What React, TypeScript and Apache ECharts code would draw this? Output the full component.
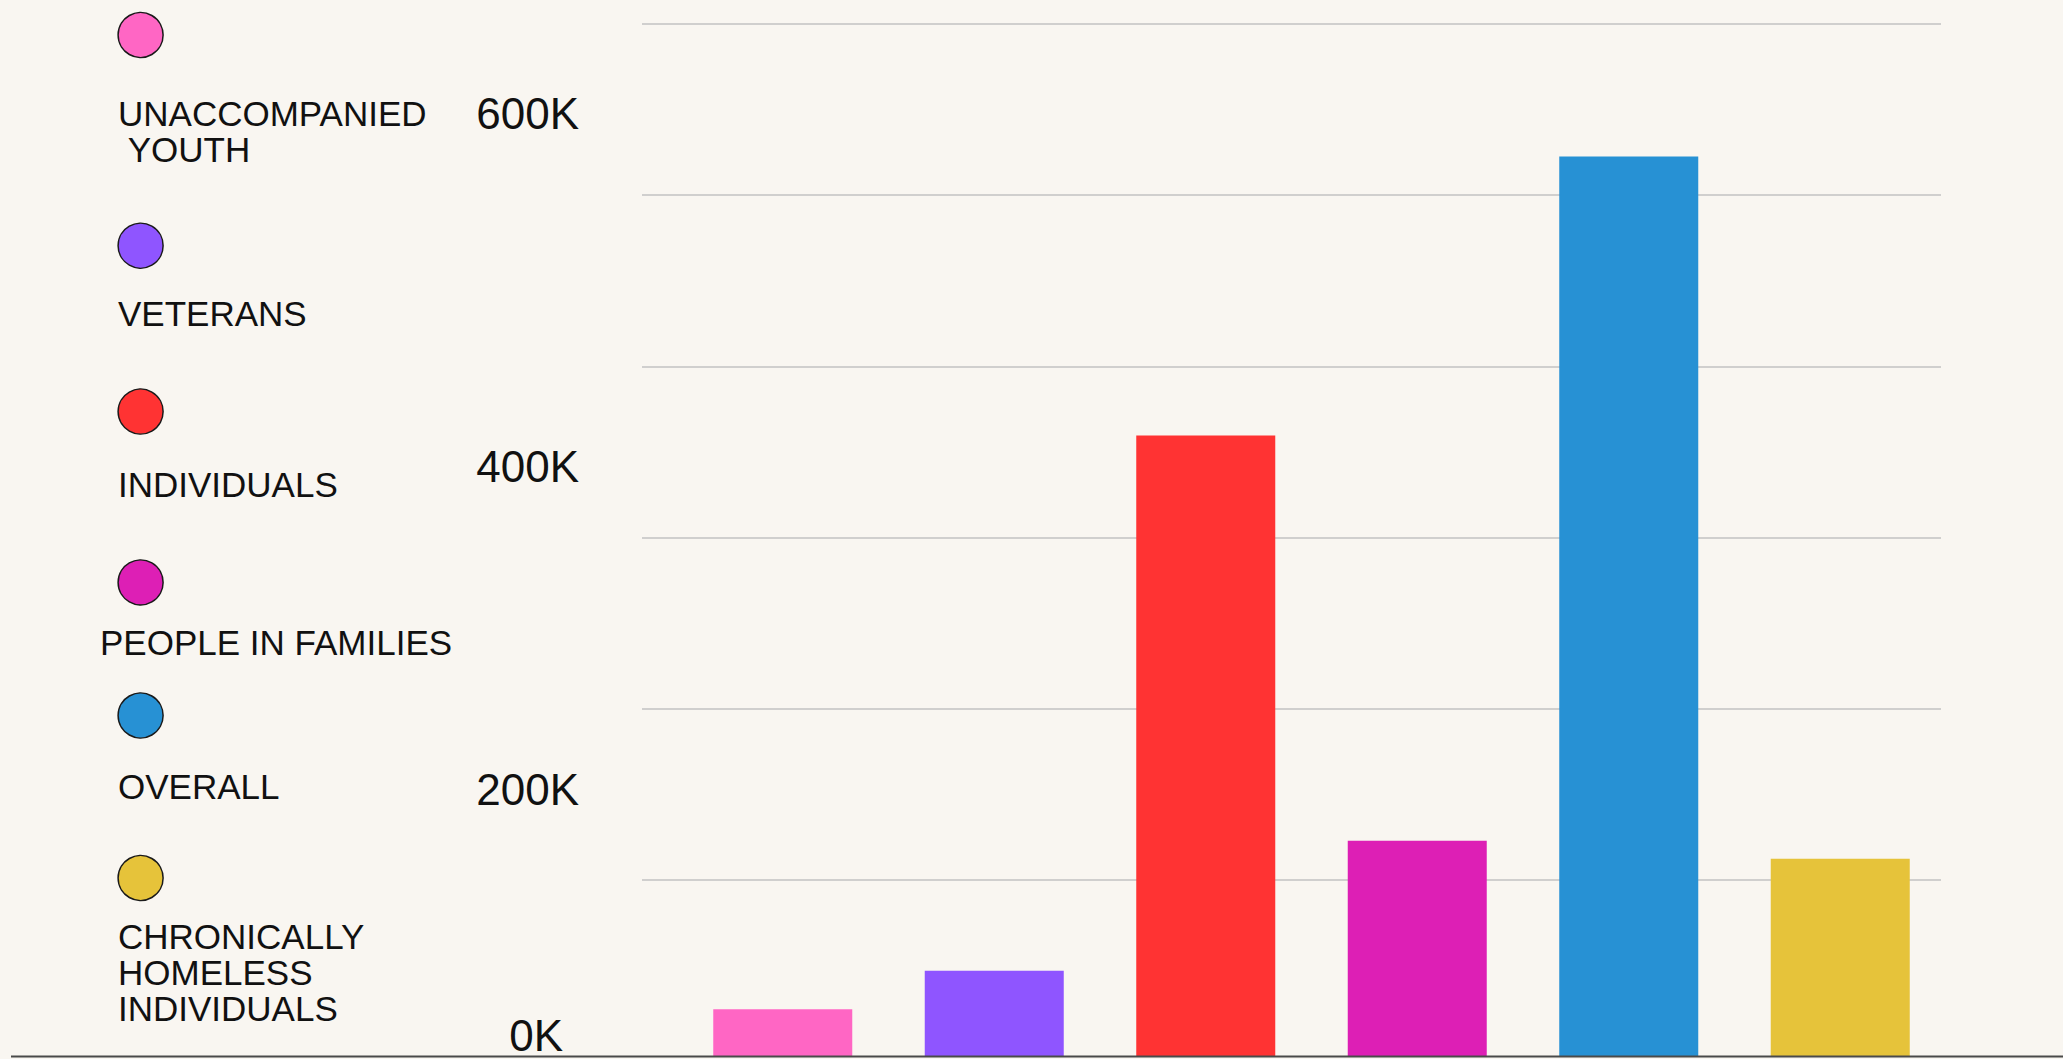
import React, { useEffect, useRef } from "react";
import * as echarts from "echarts";

// ---- data ----
const categories = [
  "UNACCOMPANIED YOUTH",
  "VETERANS",
  "INDIVIDUALS",
  "PEOPLE IN FAMILIES",
  "OVERALL",
  "CHRONICALLY HOMELESS INDIVIDUALS",
];
const legendLabels = [
  "UNACCOMPANIED\n\u00a0YOUTH",
  "VETERANS",
  "INDIVIDUALS",
  "PEOPLE IN FAMILIES",
  "OVERALL",
  "CHRONICALLY\nHOMELESS\nINDIVIDUALS",
];
const values = [27200, 49600, 360800, 125200, 522900, 114700];
const colors = ["#FF66C4", "#8F55FF", "#FF3333", "#DD1FB5", "#2791D4", "#E6C33A"];
// tick labels and where they sit on the value scale (as drawn in the reference)
const tickLabels = ["0K", "200K", "400K", "600K"];
const tickAnchors = [12200, 154800, 342700, 547700];

// ---- layout (legend) ----
const legendCircleY = [35, 245.7, 411.6, 582.4, 715.5, 878];
const legendTextY = [113, 313, 484.5, 642.5, 786.4, 936];
const legendTextX = [118, 118, 118, 100, 118, 118];

const FONT = "'Liberation Sans', Arial, Helvetica, sans-serif";

export default function App() {
  const ref = useRef<HTMLDivElement>(null);

  useEffect(() => {
    if (!ref.current) return;
    const chart = echarts.init(ref.current, null, { renderer: "svg" });

    const legendGraphics: any[] = [];
    categories.forEach((_, i) => {
      legendGraphics.push({
        type: "circle",
        shape: { cx: 140.6, cy: legendCircleY[i], r: 22.5 },
        style: { fill: colors[i], stroke: "#1a1a1a", lineWidth: 1.5 },
        z: 10,
      });
      legendGraphics.push({
        type: "text",
        x: legendTextX[i],
        y: legendTextY[i] - 18,
        style: {
          text: legendLabels[i],
          fill: "#111",
          font: `35px ${FONT}`,
          lineHeight: 36,
          align: "left",
          verticalAlign: "top",
        },
        z: 10,
      });
    });

    chart.setOption({
      animation: false,
      backgroundColor: "#F9F6F1",
      grid: [
        { left: 642, right: 122, top: 24, height: 856, containLabel: false },
        { left: 677, right: 117, top: 24, bottom: 3, containLabel: false },
      ],
      xAxis: [
        {
          gridIndex: 0,
          type: "value",
          min: 0,
          max: 1,
          show: false,
        },
        {
          gridIndex: 1,
          type: "category",
          data: categories,
          axisLine: { show: false },
          axisTick: { show: false },
          axisLabel: { show: false },
          splitLine: { show: false },
        },
      ],
      yAxis: [
        {
          gridIndex: 0,
          type: "value",
          min: 0,
          max: 500000,
          interval: 100000,
          axisLine: { show: false },
          axisTick: { show: false },
          axisLabel: { show: false },
          splitLine: { show: true, lineStyle: { color: "#c2c2c2", width: 1.6 } },
        },
        {
          gridIndex: 1,
          type: "value",
          min: 0,
          max: 600000,
          axisLine: { show: false },
          axisTick: { show: false },
          splitLine: { show: false },
          axisLabel: {
            show: true,
            customValues: tickAnchors,
            margin: 98,
            formatter: (v: number) => {
              let idx = 0;
              let best = Infinity;
              tickAnchors.forEach((a, k) => {
                const d = Math.abs(a - v);
                if (d < best) {
                  best = d;
                  idx = k;
                }
              });
              return idx === 0 ? `{b|${tickLabels[idx]}}` : `{a|${tickLabels[idx]}}`;
            },
            rich: {
              a: { fontSize: 44, fontFamily: FONT, color: "#111" },
              b: { fontSize: 44, fontFamily: FONT, color: "#111", padding: [0, 16, 0, 0] },
            },
          },
        },
      ],
      series: [
        {
          type: "bar",
          xAxisIndex: 1,
          yAxisIndex: 1,
          barWidth: 139,
          data: values.map((v, i) => ({ value: v, itemStyle: { color: colors[i] } })),
        },
      ],
      graphic: [
        {
          type: "line",
          shape: { x1: 11, y1: 1056.5, x2: 2063, y2: 1056.5 },
          style: { stroke: "#4a4a4a", lineWidth: 2 },
          z: 20,
        },
        ...legendGraphics,
      ],
    });

    return () => chart.dispose();
  }, []);

  return (
    <div
      ref={ref}
      style={{ position: "fixed", left: 0, top: 0, width: 2063, height: 1059 }}
    />
  );
}
